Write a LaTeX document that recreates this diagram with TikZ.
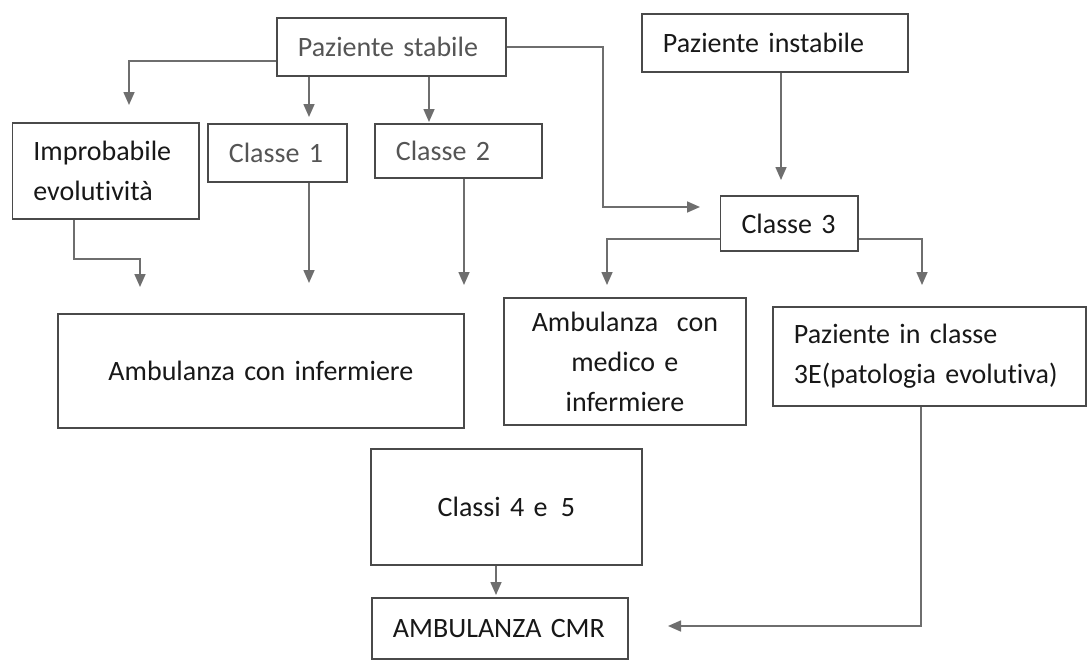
\documentclass[tikz,border=0pt]{standalone}
\usepackage{fontspec}
\setmainfont{Carlito}[Ligatures={NoCommon}]
\usetikzlibrary{arrows.meta}
\definecolor{boxc}{HTML}{4A4A4A}
\definecolor{linec}{HTML}{6E6E6E}
\definecolor{txtg}{HTML}{555555}
\definecolor{txtd}{HTML}{181818}
\begin{document}
\begin{tikzpicture}[x=1pt,y=-1pt,
  box/.style={draw=boxc, line width=1.8pt, anchor=north west, inner xsep=21pt, inner ysep=0pt,
    font=\fontsize{28}{40}\selectfont, text=txtd},
  conn/.style={draw=linec, line width=1.6pt, -{Triangle[length=13pt,width=11pt,fill=linec]}},
]
\fill[white] (0,0) rectangle (1089,661);
\useasboundingbox (0,0) rectangle (1089,661);

% boxes
\node[box, text=txtg, minimum width=229pt, minimum height=58pt, text width=187pt, align=left] (stabile) at (276,17) {Paziente~stabile};
\node[box, minimum width=266pt, minimum height=58pt, text width=224pt, align=left] (instabile) at (641,13) {Paziente~instabile};
\node[box, minimum width=186.5pt, minimum height=96pt, text width=144.5pt, align=left] (improb) at (11.5,122) {Improbabile\\evolutività};
\node[box, text=txtg, minimum width=139pt, minimum height=58pt, text width=97pt, align=left] (classe1) at (207,123) {Classe~1};
\node[box, text=txtg, minimum width=167pt, minimum height=54pt, text width=125pt, align=left] (classe2) at (374,123) {Classe~2};
\node[box, minimum width=137.4pt, minimum height=55pt, text width=95.4pt, align=left] (classe3) at (719.6,195) {Classe~3};
\node[box, minimum width=406pt, minimum height=114pt, text width=364pt, align=center] (ambinf) at (57,313) {Ambulanza con infermiere};
\node[box, minimum width=242pt, minimum height=127pt, text width=200pt, align=center] (ambmed) at (503,297) {Ambulanza~ con\\medico e\\infermiere};
\node[box, minimum width=313pt, minimum height=99pt, text width=271pt, align=left] (pcl) at (772,306) {Paziente in classe\\3E(patologia~evolutiva)};
\node[box, minimum width=271pt, minimum height=116pt, text width=229pt, align=center] (classi) at (370,448) {Classi 4 e\hspace{4pt} 5};
\node[box, minimum width=256pt, minimum height=61pt, text width=214pt, align=left] (cmr) at (371,597) {AMBULANZA~CMR};

% connector end points
\coordinate (a1) at (129,105);
\coordinate (a2) at (309,117);
\coordinate (a3) at (429,122);
\coordinate (a4) at (700,207);
\coordinate (a5) at (781,180);
\coordinate (a6) at (607,285);
\coordinate (a7) at (922,285);
\coordinate (a8) at (140,287);
\coordinate (a9) at (309,283);
\coordinate (a10) at (464,285);
\coordinate (a11) at (496,595);
\coordinate (a12) at (668,626);

% connectors
\draw[conn] ([yshift=-14pt]stabile.west) -| (a1);
\draw[conn] (stabile.south -| a2) -- (a2);
\draw[conn] (stabile.south -| a3) -- (a3);
\draw[conn] (stabile.east) -- ++(96,0) |- (a4);
\draw[conn] (instabile.south -| a5) -- (a5);
\draw[conn] ([yshift=-15.5pt]classe3.west) -| (a6);
\draw[conn] ([yshift=-15.5pt]classe3.east) -| (a7);
\draw[conn] ([xshift=-31.75pt]improb.south) -- ++(0,39) -| (a8);
\draw[conn] (classe1.south -| a9) -- (a9);
\draw[conn] (classe2.south -| a10) -- (a10);
\draw[conn] (classi.south -| a11) -- (a11);
\draw[conn] ([xshift=-8.5pt]pcl.south) |- (a12);
\end{tikzpicture}
\end{document}
